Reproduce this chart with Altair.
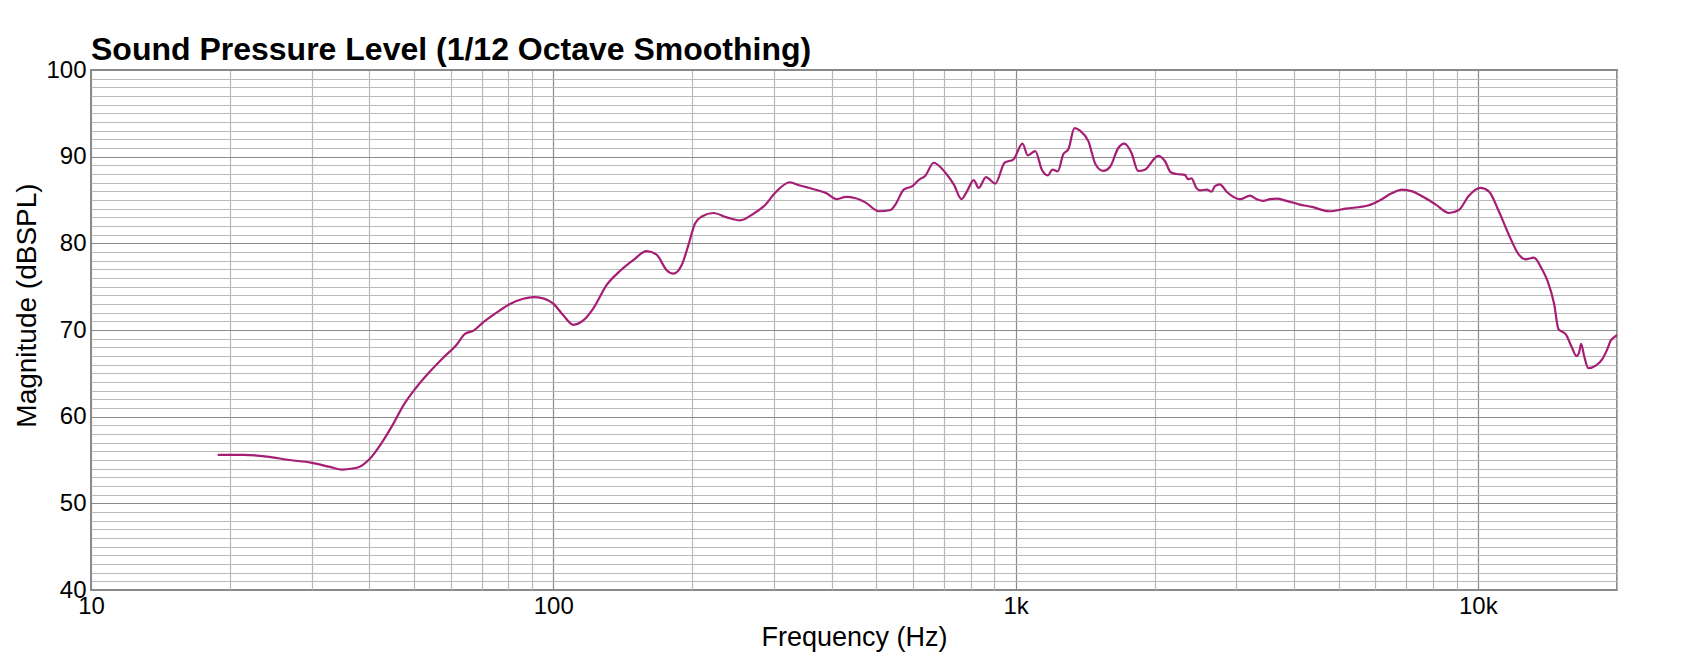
import altair as alt
import pandas as pd

freq_hz = [18.8, 21.4, 24.0, 26.9, 29.9, 32.9, 34.9, 37.6, 40.1, 42.5,
           45.1, 47.4, 50.6, 54.1, 57.8, 61.8, 64.4, 67.1, 70.6, 75.4,
           80.6, 86.1, 90.5, 95.1, 100, 105.1, 110.5, 116.1, 122.1, 130.5,
           139.4, 148.9, 159.2, 167.3, 175.9, 181.8, 189.6, 196, 202.6, 209.6,
           222, 237.3, 253.5, 270.8, 287, 301.6, 325, 340, 363, 389,
           411, 429, 451, 474, 506, 537, 550, 573, 598, 617,
           638, 665, 705, 735, 764, 785, 812, 832, 863, 904,
           947, 990, 1035, 1063, 1103, 1140, 1174, 1202, 1234, 1269,
           1301, 1341, 1379, 1437, 1490, 1548, 1600, 1668, 1718, 1781,
           1841, 1904, 2035, 2104, 2166, 2229, 2324, 2361, 2402, 2460,
           2507, 2591, 2655, 2700, 2767, 2862, 3058, 3214, 3323, 3434,
           3551, 3671, 3858, 4102, 4383, 4762, 5174, 5810, 6107, 6527,
           6859, 7214, 7706, 8098, 8655, 9097, 9562, 10134, 10563, 11101,
           11668, 12265, 12680, 13213, 13772, 14142, 14625, 14942, 15500, 15970,
           16340, 16560, 16730, 16980, 17340, 17990, 18590, 19060, 19390, 19770,
           20000]

spl_db = [55.6, 55.6, 55.4, 55.0, 54.7, 54.2, 53.9, 54.1, 55.15, 56.95,
          59.2, 61.3, 63.4, 65.2, 66.8, 68.3, 69.55, 69.9, 70.9, 72.0,
          73.0, 73.6, 73.8, 73.65, 73.05, 71.7, 70.6, 71.1, 72.5, 75.2,
          76.8, 78.05, 79.1, 78.7, 76.9, 76.5, 77.5, 79.8, 82.3, 83.1,
          83.5, 83.0, 82.65, 83.4, 84.4, 85.8, 87.05, 86.7, 86.3, 85.8,
          85.1, 85.35, 85.2, 84.7, 83.7, 83.85, 84.5, 86.2, 86.6, 87.3,
          87.8, 89.3, 88.15, 86.8, 85.1, 86.0, 87.3, 86.4, 87.65, 86.9,
          89.3, 89.7, 91.5, 90.15, 90.65, 88.5, 87.85, 88.5, 88.3, 90.3,
          90.85, 93.3, 93.0, 91.8, 89.1, 88.35, 88.8, 91.0, 91.5, 90.45,
          88.35, 88.5, 90.1, 89.5, 88.2, 88.0, 87.9, 87.4, 87.5, 86.4,
          86.1, 86.2, 85.95, 86.6, 86.8, 85.95, 85.1, 85.5, 85.1, 84.9,
          85.1, 85.15, 84.9, 84.5, 84.2, 83.7, 84.0, 84.4, 84.9, 85.8,
          86.2, 86.0, 85.2, 84.5, 83.5, 83.85, 85.5, 86.4, 86.0, 83.7,
          81.0, 78.7, 78.15, 78.35, 77.0, 75.7, 73.0, 70.1, 69.5, 68.0,
          67.0, 67.4, 68.4, 67.0, 65.6, 65.9, 66.65, 67.8, 68.8, 69.2,
          69.4]

# axis grid positions (1..9 x 10^n) and 1 dB steps
x_grid_values = [m * 10 ** e for e in range(1, 5) for m in range(1, 10) if m * 10 ** e <= 20000] + [20000]
y_grid_values = list(range(40, 101))

df = pd.DataFrame({"freq": freq_hz, "spl": spl_db})

FONT = "Liberation Sans"
MAJOR = "#8a8a8a"
MINOR = "#b9b9b9"

x_major_test = "abs(log(datum.value)/LN10 - round(log(datum.value)/LN10)) < 1e-6"
y_major_test = "datum.value % 10 === 0"

x_label_expr = ("datum.value == 10 ? '10' : datum.value == 100 ? '100' : "
                "datum.value == 1000 ? '1k' : datum.value == 10000 ? '10k' : ''")

W, H = 1526, 520

chart = alt.Chart(df).mark_line(
    color="#a61e74", strokeWidth=2.2, interpolate="monotone"
).encode(
    x=alt.X(
        "freq:Q",
        scale=alt.Scale(type="log", domain=[10, 20000], nice=False),
        axis=alt.Axis(
            values=x_grid_values,
            labelExpr=x_label_expr,
            title="Frequency (Hz)",
            grid=True,
            gridColor={"condition": {"test": x_major_test, "value": MAJOR}, "value": MINOR},
            gridWidth=1.2,
            ticks=False,
            domain=False,
            labelFlush=False,
            labelOverlap=False,
            labelBound=False,
            labelFont=FONT,
            labelFontSize=24,
            labelColor="#000000",
            labelPadding=4,
            titleFont=FONT,
            titleFontSize=27,
            titleFontWeight="normal",
            titleColor="#000000",
            titleX=W / 2,
            titleY=47,
            titleBaseline="middle",
            titleAlign="center",
        ),
    ),
    y=alt.Y(
        "spl:Q",
        scale=alt.Scale(domain=[40, 100], nice=False),
        axis=alt.Axis(
            values=y_grid_values,
            labelExpr="datum.value % 10 === 0 ? datum.label : ''",
            title="Magnitude (dBSPL)",
            grid=True,
            gridColor={"condition": {"test": y_major_test, "value": MAJOR}, "value": MINOR},
            gridWidth=1.2,
            ticks=False,
            domain=False,
            labelFlush=False,
            labelOverlap=False,
            labelBound=False,
            labelFont=FONT,
            labelFontSize=24,
            labelColor="#000000",
            labelPadding=5,
            titleFont=FONT,
            titleFontSize=28,
            titleFontWeight="normal",
            titleColor="#000000",
            titleAngle=270,
            titleX=-64,
            titleY=235,
            titleBaseline="middle",
            titleAlign="center",
        ),
    ),
).properties(
    width=W,
    height=H,
    autosize=alt.AutoSizeParams(type="none"),
    padding={"left": 83, "top": 62, "right": 57, "bottom": 69},
    title=alt.TitleParams(
        text="Sound Pressure Level (1/12 Octave Smoothing)",
        anchor="start",
        frame="group",
        font=FONT,
        fontSize=32,
        fontWeight="bold",
        color="#000000",
        baseline="alphabetic",
        offset=8,
        dy=42,
    ),
).configure_view(
    stroke="#8a8a8a", strokeWidth=2
)

chart.save("out.html", embed_options={"renderer": "svg", "actions": False})
